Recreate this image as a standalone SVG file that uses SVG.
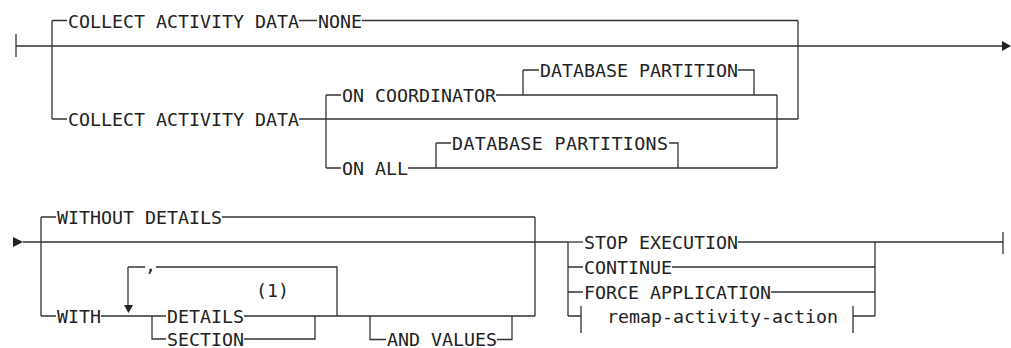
<svg xmlns="http://www.w3.org/2000/svg" width="1011" height="348" viewBox="0 0 1011 348">
<style>
.t{font-family:"DejaVu Sans Mono","Liberation Mono",monospace;font-size:18.3px;fill:#222}
.l{fill:none;stroke:#333;stroke-width:1.3}
.a{fill:#222;stroke:none}
</style>
<rect width="1011" height="348" fill="#fff"/>
<g id="connectors" class="l">
<path d="M16 34V57M16 46H1003"/>
<path d="M52 20.5V119M798 20.5V119"/>
<path d="M52 20.5H67M299 20.5H317M362 20.5H798"/>
<path d="M52 119H67M299 119H798"/>
<path d="M326 95V168M777 95V168"/>
<path d="M326 95H341M496 95H777"/>
<path d="M523 70V95M523 70H539M738 70H754V95"/>
<path d="M326 168H341M408 168H777"/>
<path d="M436 143V168M436 143H451M669 143H678V168"/>
<path d="M23 242H568"/>
<path d="M41 217V316M535 217V316"/>
<path d="M41 217H56M222 217H535"/>
<path d="M41 316H56M101 316H166M244 316H535"/>
<path d="M128 267V306M128 267H145M156 267H337V316"/>
<path d="M152 316V339H166M244 339H315V316"/>
<path d="M370 316V339.5H386M497 339.5H512V316"/>
<path d="M568 242V316M875 242V316"/>
<path d="M738 242H1003M1003 232V254"/>
<path d="M568 267H583M672 267H875"/>
<path d="M568 292H583M771 292H875"/>
<path d="M568 316H581M581 306V333M853 306V333M853 316H875"/>
<path d="M568 242H583"/>
</g>
<g id="arrows">
<polygon class="a" points="1002,41 1011,46 1002,51"/>
<polygon class="a" points="13,237 23,242 13,247"/>
<polygon class="a" points="124,305 133,305 128.5,313"/>
</g>
<g id="n-collect-none"><text class="t" x="68" y="27.5">COLLECT ACTIVITY DATA</text></g>
<g id="n-none"><text class="t" x="318" y="27.5">NONE</text></g>
<g id="n-collect"><text class="t" x="68" y="126">COLLECT ACTIVITY DATA</text></g>
<g id="n-on-coord"><text class="t" x="342" y="102">ON COORDINATOR</text></g>
<g id="n-db-partition"><text class="t" x="540" y="77">DATABASE PARTITION</text></g>
<g id="n-on-all"><text class="t" x="342" y="175">ON ALL</text></g>
<g id="n-db-partitions"><text class="t" x="452" y="150" textLength="216">DATABASE PARTITIONS</text></g>
<g id="n-without"><text class="t" x="57" y="224">WITHOUT DETAILS</text></g>
<g id="n-with"><text class="t" x="57" y="323">WITH</text></g>
<g id="n-comma"><text class="t" x="145" y="272">,</text></g>
<g id="n-details"><text class="t" x="167" y="323">DETAILS</text></g>
<g id="n-note"><text class="t" x="256" y="297">(1)</text></g>
<g id="n-section"><text class="t" x="167" y="345.5">SECTION</text></g>
<g id="n-and-values"><text class="t" x="387" y="345.5">AND VALUES</text></g>
<g id="n-stop"><text class="t" x="584" y="249">STOP EXECUTION</text></g>
<g id="n-continue"><text class="t" x="584" y="274">CONTINUE</text></g>
<g id="n-force"><text class="t" x="584" y="299">FORCE APPLICATION</text></g>
<g id="n-remap"><text class="t" x="607" y="323">remap-activity-action</text></g>
</svg>
